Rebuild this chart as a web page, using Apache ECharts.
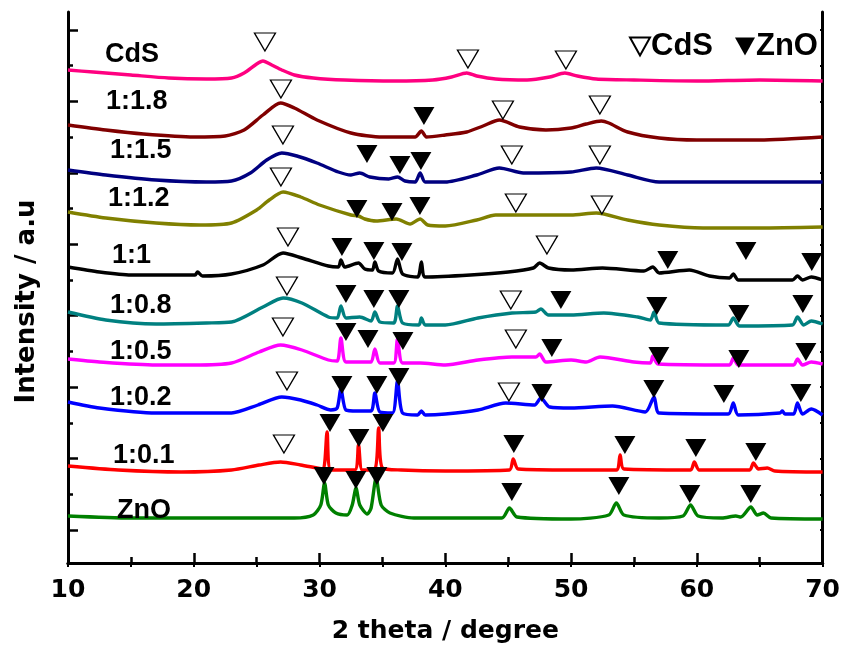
<!DOCTYPE html>
<html>
<head>
<meta charset="utf-8">
<script src="https://cdn.jsdelivr.net/npm/echarts@6/dist/echarts.min.js"></script>
<style>
html,body{margin:0;padding:0;background:#fff;}
#c{width:843px;height:649px;}
</style>
</head>
<body>
<div id="c"></div>
<script>
// ---- data (2 theta in degree, intensity in stacked a.u.) ----
const xTicks = [10, 20, 30, 40, 50, 60, 70];

const cds = [[10,493],[12,491],[15,488],[18,485],[21,484],[23,485],[24,490],[25,499],[25.5,502],[26.2,498],[27,493],[28,488],[29.5,485],[32,483],[36,482],[39,483],[40.5,486],[41.7,490],[42.5,487],[44,484],[46.5,483],[48.3,486],[49.5,490],[50.5,487],[52,484],[55,483],[60,482],[65,483],[70,482]];
const r1_1_8 = [[10,438],[13,433],[16,429],[20,426],[22.5,427],[24,433],[25.5,448],[26.9,460],[28,455],[29.8,443],[32.5,430],[35,426],[37.6,426],[38.1,432],[38.5,426],[40,428],[41.7,431],[43,437],[44.3,443],[45.9,436],[48,433],[50,435],[51.2,439],[52.4,442],[53,440],[54.5,431],[57,425],[60,423],[65,423],[70,426]];
const r1_1_5 = [[10,393],[13,388],[17,383],[21,381],[23,382],[24.5,390],[25.8,403],[27,410],[28.2,407],[29.8,400],[31.5,391],[32.5,388],[33.2,390],[34,386],[35.5,384],[36.2,386],[36.8,382],[37.6,381],[38,390],[38.4,381],[40,381],[42.5,388],[44.3,395],[46.2,390],[50,391],[52,395],[54.5,388],[57,381],[62,381],[70,381]];
const r1_1_2 = [[10,351],[13,345],[17,340],[20.5,338],[23,340],[25,353],[26,363],[27.1,371],[28.5,366],[30,358],[32.5,348],[33.1,347],[33.6,344],[34.5,342],[36.1,344],[37.2,339],[38,344],[38.6,338],[40,337],[42.5,343],[44,348],[47,348],[50,348],[52,350],[54.5,343],[57,338],[60.5,335],[65,335],[70,336]];
const r1_1 = [[10,296],[12.5,291],[15,288],[18,288],[20.1,288],[20.3,291],[20.7,287],[23,289],[25.5,298],[27.1,310],[28.6,305],[30.7,297],[31.5,296],[31.7,303],[32,296],[33.1,300],[33.6,294],[34.2,293],[34.4,301],[34.7,292],[35.8,290],[36.2,304],[36.6,289],[37.8,286],[38.1,301],[38.4,286],[42,288],[45,291],[47,295],[47.5,300],[48.2,295],[50,293],[52.5,295],[55.8,292],[56.5,296],[57,290],[59.4,293],[61,287],[62.6,285],[62.9,289],[63.3,283],[67.6,283],[68,287],[68.4,283],[69.1,286],[70,283]];
const r1_0_8 = [[10,251],[13,243],[17,239],[21,240],[23,241],[25.5,256],[27.1,265],[28.6,260],[30.7,246],[31.4,245],[31.7,257],[32.1,245],[33.2,246],[34.1,242],[34.4,251],[34.8,241],[35.9,240],[36.2,257],[36.6,240],[37.9,238],[38.1,245],[38.4,238],[40,238],[42.6,245],[45.3,250],[47.2,251],[47.6,254],[48.2,248],[50,248],[52.6,250],[55.3,246],[56.3,243],[56.6,251],[57,240],[62.5,238],[62.9,245],[63.4,237],[67.6,238],[68,246],[68.5,238],[69.1,242],[70,239]];
const r1_0_5 = [[10,204],[12.5,201],[17,198],[20,198],[23,200],[25.2,211],[26.9,218],[28.6,213],[30.7,203],[31.4,202],[31.7,225],[32.1,201],[33.5,201],[34.1,201],[34.4,214],[34.8,200],[35.9,200],[36.2,224],[36.6,200],[38,200],[40,198],[42.6,203],[45.3,206],[47.2,206],[47.5,209],[48,201],[50,203],[51.2,201],[52.3,206],[55,201],[56.3,200],[56.5,207],[56.9,199],[62.6,198],[62.9,205],[63.3,198],[67.7,198],[68,204],[68.4,198],[69.1,201],[70,199]];
const r1_0_2 = [[10,161],[12.5,155],[17,150],[20,150],[23,150],[25.1,158],[27,166],[28.5,163],[29.8,158],[30.9,153],[31.4,155],[31.7,174],[32.1,153],[33,152],[34.1,152],[34.4,170],[34.8,151],[35.8,150],[36.2,182],[36.6,150],[37.8,148],[38.1,152],[38.4,148],[40,149],[42.6,153],[44.8,160],[47.1,158],[47.6,165],[48.3,156],[50,155],[53.3,157],[55.9,151],[56.6,166],[57,150],[62.5,149],[62.9,160],[63.3,148],[66.6,150],[66.8,152],[67,149],[67.7,149],[68,160],[68.4,149],[69.1,154],[70,148]];
const r1_0_1 = [[10,97],[14,93],[19,91],[23,93],[25.2,98],[26.9,101],[28.5,98],[29.8,95],[30.3,94],[30.6,131],[30.9,93],[32.8,93],[33.1,118],[33.4,93],[34.4,94],[34.7,135],[35,95],[36.5,93],[40,92],[45.1,93],[45.4,104],[45.8,94],[50,93],[53.6,93],[53.9,108],[54.2,94],[59.5,93],[59.8,101],[60.2,93],[64.2,93],[64.5,100],[64.9,94],[65.6,95],[66.2,92],[70,91]];
const zno = [[10,47],[15,45],[25,45],[28,45],[29.5,48],[30.1,58],[30.4,80],[30.7,58],[31.3,50],[32.2,48],[32.6,58],[32.9,75],[33.2,58],[33.8,49],[34.1,55],[34.5,85],[34.9,58],[35.6,50],[37.5,45],[44.5,45],[45.1,55],[45.7,46],[50,44],[53,48],[53.6,60],[54.2,48],[57,45],[58.9,47],[59.5,58],[60.1,47],[62,45],[63.1,47],[63.5,46],[64.3,56],[64.8,48],[65.3,50],[65.9,45],[70,44]];

const sampleNames = ['CdS', '1:1.8', '1:1.5', '1:1.2', '1:1', '1:0.8', '1:0.5', '1:0.2', '1:0.1', 'ZnO'];
const sampleCurves = [cds, r1_1_8, r1_1_5, r1_1_2, r1_1, r1_0_8, r1_0_5, r1_0_2, r1_0_1, zno];
const sampleColors = ['#FF0080', '#800000', '#000080', '#808000', '#000000', '#008080', '#FF00FF', '#0000FF', '#FF0000', '#008000'];
// label anchor [2theta, intensity] for each sample name
const labelAnchors = [[12.94,508],[13.02,461],[13.34,412],[13.18,364],[13.5,307],[13.34,257],[13.34,211],[13.34,165],[13.58,107],[13.9,52]];

// peak markers [2theta, intensity]
const cdsMarks = [[25.66,521],[41.8,504],[49.59,503],[26.93,474],[44.58,453],[52.29,458],[27.09,428],[45.29,408],[52.29,408],[26.93,386],[45.61,360],[52.45,358],[27.49,326],[48.08,318],[27.41,277],[45.21,263],[27.09,236],[45.61,224],[27.41,182],[45.06,171],[27.17,119]];
const znoMarks = [[38.3,447],[33.77,409],[36.39,398],[38.06,402],[32.97,354],[35.76,351],[37.98,357],[31.78,316],[34.32,312],[36.55,311],[57.69,303],[63.9,312],[69.14,301],[32.1,269],[34.32,264],[36.31,264],[49.19,263],[56.82,257],[63.34,249],[68.43,259],[32.1,231],[33.85,224],[36.63,222],[48.47,215],[56.98,207],[63.34,204],[68.67,211],[31.78,178],[34.56,178],[36.31,186],[47.68,170],[56.58,174],[62.15,169],[68.27,170],[30.83,140],[33.13,125],[35.04,140],[45.45,119],[54.28,118],[59.92,115],[64.69,111],[30.35,87],[32.89,83],[34.56,87],[45.29,71],[53.8,77],[59.44,69],[64.29,69]];

// ---- chart ----
const chart = echarts.init(document.getElementById('c'), null, {renderer: 'canvas'});
const bold = {fontFamily: 'DejaVu Sans', fontWeight: 'bold', color: '#000'};
const triPath = 'path://M0,0 L20,0 L10,18 Z';

const series = [];
sampleCurves.forEach((d, i) => {
  series.push({
    name: 'pattern ' + sampleNames[i], type: 'line', data: d, xAxisIndex: 0, yAxisIndex: 0,
    showSymbol: false, smooth: 0.25,
    lineStyle: {color: sampleColors[i], width: 3.4}, itemStyle: {color: sampleColors[i]},
    silent: true, z: 2
  });
});
series.push({
  name: 'labels', type: 'scatter', xAxisIndex: 0, yAxisIndex: 0, z: 5, silent: true,
  data: labelAnchors.map((p, i) => ({value: p, name: sampleNames[i]})),
  symbolSize: 0, itemStyle: {color: '#000', opacity: 1},
  label: {show: true, position: 'right', distance: 0, formatter: p => p.name,
          fontFamily: 'Liberation Sans', fontWeight: 'bold', fontSize: 27, color: '#000'}
});
series.push({
  name: 'CdS', type: 'scatter', xAxisIndex: 0, yAxisIndex: 0, z: 4, silent: true,
  data: cdsMarks, symbol: 'triangle', symbolRotate: 180, symbolSize: [21, 18],
  itemStyle: {color: '#fff', borderColor: '#000', borderWidth: 1.3, opacity: 1}
});
series.push({
  name: 'ZnO', type: 'scatter', xAxisIndex: 0, yAxisIndex: 0, z: 4, silent: true,
  data: znoMarks, symbol: 'triangle', symbolRotate: 180, symbolSize: [21, 18],
  itemStyle: {color: '#000', opacity: 1}
});

const option = {
  animation: false,
  backgroundColor: '#fff',
  legend: {
    data: [{name: 'CdS', icon: triPath}, {name: 'ZnO', icon: triPath}],
    left: 629, top: 31, itemWidth: 20, itemHeight: 18, itemGap: 22, padding: 0,
    selectedMode: false,
    textStyle: {fontFamily: 'Liberation Sans', fontWeight: 'bold', fontSize: 31, color: '#000', padding: [0,0,0,-4]}
  },
  grid: [
    {left: 68, right: 20, top: 12, bottom: 86},
    {left: 68, right: 20, top: 30, bottom: 119}
  ],
  xAxis: [
    {gridIndex: 0, type: 'value', position: 'bottom', min: xTicks[0], max: xTicks[xTicks.length-1], interval: 10,
     name: '2 theta / degree', nameLocation: 'middle', nameGap: 56,
     nameTextStyle: Object.assign({fontSize: 25}, bold),
     axisLine: {lineStyle: {color: '#000', width: 3}},
     axisTick: {inside: true, length: 10, lineStyle: {color: '#000', width: 2.5}},
     minorTick: {show: true, splitNumber: 2, length: 6, lineStyle: {color: '#000', width: 2.5}},
     axisLabel: Object.assign({fontSize: 25, margin: 15}, bold),
     splitLine: {show: false}},
    {gridIndex: 0, type: 'value', position: 'top', min: xTicks[0], max: xTicks[xTicks.length-1], interval: 10,
     axisLine: {lineStyle: {color: '#000', width: 3}},
     axisTick: {inside: true, length: 4, lineStyle: {color: '#000', width: 2}},
     minorTick: {show: true, splitNumber: 2, length: 4, lineStyle: {color: '#000', width: 2}},
     axisLabel: {show: false}, splitLine: {show: false}},
    {gridIndex: 1, type: 'value', min: 0, max: 1, show: false}
  ],
  yAxis: [
    {gridIndex: 0, type: 'value', position: 'left', min: 0, max: 551,
     name: 'Intensity / a.u', nameLocation: 'middle', nameGap: 28, nameRotate: 90,
     nameTextStyle: Object.assign({fontSize: 26, padding: [0, 28, 0, 0]}, bold),
     axisLine: {show: true, lineStyle: {color: '#000', width: 3}},
     axisTick: {show: false}, axisLabel: {show: false}, splitLine: {show: false}},
    {gridIndex: 0, type: 'value', position: 'right', min: 0, max: 551,
     axisLine: {show: true, lineStyle: {color: '#000', width: 3}},
     axisTick: {show: false}, axisLabel: {show: false}, splitLine: {show: false}},
    {gridIndex: 1, type: 'value', position: 'left', min: 0, max: 14, interval: 2,
     axisLine: {show: false},
     axisTick: {show: true, inside: true, length: 10, lineStyle: {color: '#000', width: 2.5}},
     minorTick: {show: true, splitNumber: 2, length: 5, lineStyle: {color: '#000', width: 2.5}},
     axisLabel: {show: false}, splitLine: {show: false}, minorSplitLine: {show: false}},
    {gridIndex: 1, type: 'value', position: 'right', min: 0, max: 14, interval: 1,
     axisLine: {show: false},
     axisTick: {show: true, inside: true, length: 3, lineStyle: {color: '#000', width: 2}},
     axisLabel: {show: false}, splitLine: {show: false}}
  ],
  series: series
};
chart.setOption(option);
</script>
</body>
</html>
